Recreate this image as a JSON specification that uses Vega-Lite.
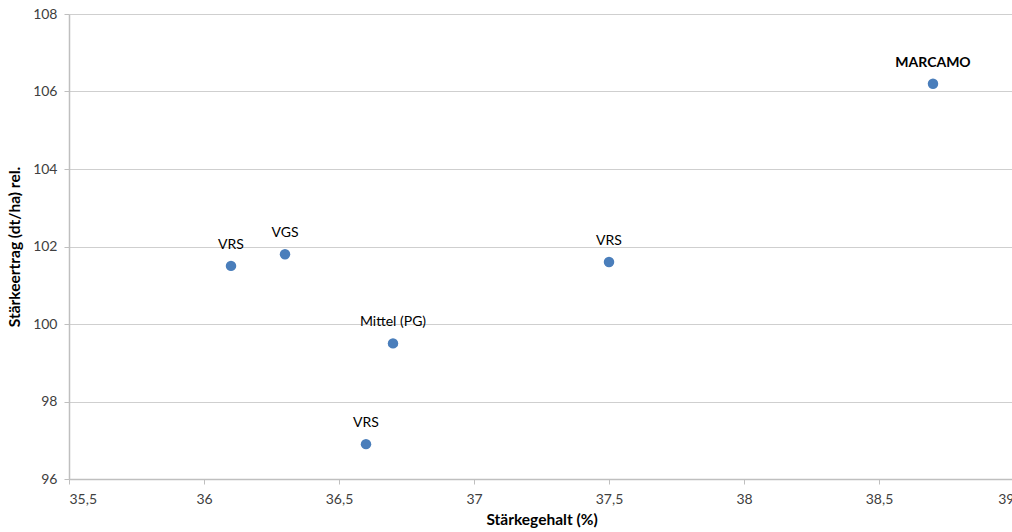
{
  "$schema": "https://vega.github.io/schema/vega-lite/v6.json",
  "width": 945,
  "height": 465,
  "autosize": {"type": "none"},
  "padding": {"left": 69, "top": 14, "right": 0, "bottom": 53},
  "background": "white",
  "config": {
    "view": {"stroke": null},
    "font": "Lato",
    "axis": {
      "labelFont": "Lato",
      "labelFontSize": 14,
      "labelColor": "#404040",
      "titleFont": "Lato",
      "titleFontSize": 15.5,
      "titleFontWeight": "bold",
      "titleColor": "#000000",
      "domainColor": "#bfbfbf",
      "tickColor": "#bfbfbf",
      "gridColor": "#cfcfcf",
      "tickSize": 5,
      "domainWidth": 1.5
    }
  },
  "data": {
    "values": [
      {"staerke": 36.1, "ertrag": 101.5, "sorte": "VRS", "bold": "normal"},
      {"staerke": 36.3, "ertrag": 101.8, "sorte": "VGS", "bold": "normal"},
      {"staerke": 36.7, "ertrag": 99.5, "sorte": "Mittel (PG)", "bold": "normal"},
      {"staerke": 36.6, "ertrag": 96.9, "sorte": "VRS", "bold": "normal"},
      {"staerke": 37.5, "ertrag": 101.6, "sorte": "VRS", "bold": "normal"},
      {"staerke": 38.7, "ertrag": 106.2, "sorte": "MARCAMO", "bold": "bold"}
    ]
  },
  "encoding": {
    "x": {
      "field": "staerke",
      "type": "quantitative",
      "scale": {"domain": [35.5, 39], "nice": false, "zero": false},
      "axis": {
        "values": [35.5, 36, 36.5, 37, 37.5, 38, 38.5, 39],
        "labelExpr": "replace(format(datum.value, '~g'), '.', ',')",
        "grid": false,
        "title": "Stärkegehalt (%)",
        "titlePadding": 6,
        "labelPadding": 8
      }
    },
    "y": {
      "field": "ertrag",
      "type": "quantitative",
      "scale": {"domain": [96, 108], "nice": false, "zero": false},
      "axis": {
        "values": [96, 98, 100, 102, 104, 106, 108],
        "grid": true,
        "title": "Stärkeertrag (dt/ha) rel.",
        "titlePadding": 10,
        "labelPadding": 7
      }
    }
  },
  "layer": [
    {
      "mark": {"type": "point", "filled": true, "size": 110, "color": "#4a7ebb", "opacity": 1}
    },
    {
      "transform": [{"filter": "datum.bold == 'normal'"}],
      "mark": {"type": "text", "dy": -21, "fontSize": 14, "color": "#000000", "font": "Lato", "baseline": "middle"},
      "encoding": {"text": {"field": "sorte"}}
    },
    {
      "transform": [{"filter": "datum.bold == 'bold'"}],
      "mark": {"type": "text", "dy": -21, "fontSize": 14, "fontWeight": "bold", "color": "#000000", "font": "Lato", "baseline": "middle"},
      "encoding": {"text": {"field": "sorte"}}
    }
  ]
}
